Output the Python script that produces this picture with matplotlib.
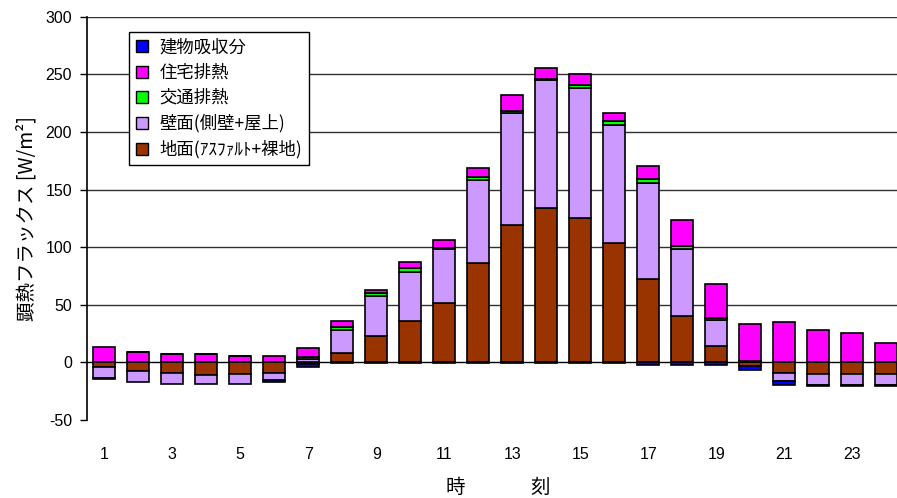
import numpy as np
import matplotlib
matplotlib.use("Agg")
import matplotlib.pyplot as plt
from matplotlib.lines import Line2D

plt.rcParams['font.family'] = ['Noto Sans CJK JP', 'DejaVu Sans']
plt.rcParams['axes.unicode_minus'] = False

hours = list(range(1, 25))
xtick_labels = ['1', '3', '5', '7', '9', '11', '13', '15', '17', '19', '21', '23']

# series (Excel order: bottom first)
ground = [-3.8, -8.1, -9.6, -10.8, -9.9, -9.3, -2.0, 7.8, 23.0, 36.0, 51.0, 85.8,
          119.2, 133.7, 125.6, 103.2, 72.4, 40.4, 13.7, -3.0, -9.0, -10.5, -10.5, -10.5]
wall = [-9.6, -9.3, -9.3, -8.1, -9.0, -6.4, 3.0, 20.0, 34.5, 42.5, 47.5, 72.3,
        97.7, 111.4, 112.5, 103.2, 83.7, 57.6, 23.3, 0.5, -7.8, -9.3, -9.3, -9.3]
traffic = [0, 0, 0, 0, 0, 0, 1.5, 2.5, 2.5, 3.0, 1.0, 2.5,
           1.0, 1.0, 2.5, 3.0, 3.0, 2.5, 1.0, 0.5, 0.5, 0, 0, 0]
house = [13.1, 8.4, 7.0, 7.0, 5.5, 5.5, 7.5, 5.5, 3.0, 5.5, 7.0, 8.0,
         14.0, 9.5, 10.0, 7.5, 11.5, 23.0, 30.0, 32.3, 34.0, 28.0, 25.5, 16.5]
building = [-1.2, 0, 0, 0, 0, -1.7, -2.5, -1.0, -1.0, -1.0, -1.0, -1.0,
            -1.0, -1.0, -1.0, -1.0, -2.5, -2.5, -2.5, -3.5, -2.9, -1.0, -1.0, -1.0]

series = [
    ('地面(ｱｽﾌｧﾙﾄ+裸地)', ground, '#993300'),
    ('壁面(側壁+屋上)', wall, '#CC99FF'),
    ('交通排熱', traffic, '#00FF00'),
    ('住宅排熱', house, '#FF00FF'),
    ('建物吸収分', building, '#0000FF'),
]

W, H = 897, 498
fig = plt.figure(figsize=(W / 100, H / 100), dpi=100)
x0 = 87.3
px_per_unit = 34.0
ax = fig.add_axes([x0 / W, 1 - 419.7 / H, 1 - x0 / W, (419.7 - 16.9) / H])
ax.set_xlim(0.5, 0.5 + (W - x0) / px_per_unit)
ax.set_ylim(-50, 300)

x = np.array(hours, dtype=float)
pos_bottom = np.zeros(len(hours))
neg_bottom = np.zeros(len(hours))
for name, vals, col in series:
    v = np.array(vals, dtype=float)
    bottom = np.where(v >= 0, pos_bottom, neg_bottom)
    ax.bar(x, v, width=0.65, bottom=bottom, color=col, edgecolor='black',
           linewidth=1.2, zorder=3)
    pos_bottom = pos_bottom + np.where(v >= 0, v, 0)
    neg_bottom = neg_bottom + np.where(v < 0, v, 0)

# gridlines
for g in [50, 100, 150, 200, 250, 300]:
    ax.axhline(g, color='#303030', linewidth=1.0, zorder=1)
ax.axhline(0, color='black', linewidth=1.0, zorder=2)

for s in ['right', 'bottom', 'top']:
    ax.spines[s].set_visible(False)
ax.spines['left'].set_linewidth(1.2)
ax.spines['left'].set_color('black')

num_font = ['Liberation Sans', 'DejaVu Sans']
ax.set_yticks([-50, 0, 50, 100, 150, 200, 250, 300])
ax.tick_params(axis='y', direction='out', length=5, width=1, labelsize=11.5, pad=6)
ax.set_xticks(list(range(1, 25, 2)))
ax.set_xticklabels(xtick_labels)
ax.tick_params(axis='x', length=0, labelsize=11.5, pad=20)
for lab in ax.get_xticklabels() + ax.get_yticklabels():
    lab.set_family(num_font)

ax.set_ylabel('顕熱フラックス [W/m²]', fontsize=14, labelpad=6)
fig.text(455 / W, 1 - 487 / H, '時', ha='center', va='center', fontsize=14)
fig.text(540 / W, 1 - 487 / H, '刻', ha='center', va='center', fontsize=14)

handles = [Line2D([], [], linestyle='none', marker='s', markersize=8,
                  markerfacecolor=col, markeredgecolor='black', markeredgewidth=1.0)
           for _, _, col in series[::-1]]
labels = [name for name, _, _ in series[::-1]]
leg = ax.legend(handles, labels, loc='upper left',
                bbox_to_anchor=((129.3 - x0) / (W - x0), 1 - (32.3 - 16.9) / (419.7 - 16.9)),
                borderaxespad=0, fontsize=12.5, frameon=True, fancybox=False,
                edgecolor='black', framealpha=1, labelspacing=0.42,
                handlelength=0.8, handletextpad=0.6, borderpad=0.35)
leg.get_frame().set_linewidth(1.0)
leg.set_zorder(5)

fig.savefig('out.png', dpi=100)
